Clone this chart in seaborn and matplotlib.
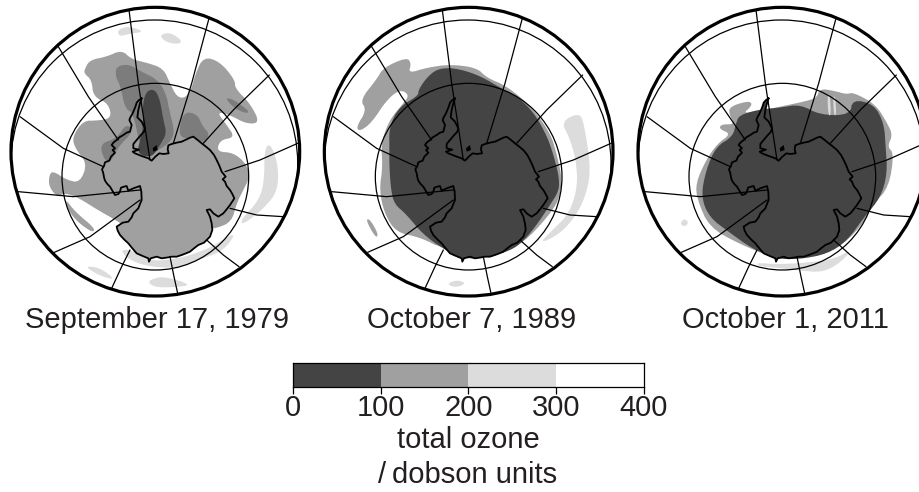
import numpy as np
import matplotlib
matplotlib.use('Agg')
import matplotlib.pyplot as plt
from matplotlib.colors import ListedColormap
from matplotlib.patches import Circle
import seaborn as sns

coast = [(425,295),(417,300),(410,308),(407,318),(403,328),(397,342),(392,350),(388,360),(395,375),(390,395),
         (380,398),(370,405),(358,412),(350,420),(340,428),(335,435),(345,445),(338,450),(345,458),(333,470),
         (328,482),(315,487),(312,498),(306,508),(310,520),(312,532),(315,542),(322,552),(330,560),(337,572),
         (345,585),(355,582),(360,575),(363,563),(372,560),(380,558),(385,572),(400,565),(420,558),(424,575),
         (425,600),(420,612),(415,625),(408,632),(400,640),(395,652),(385,665),(368,668),(350,680),(353,692),
         (360,705),(372,718),(385,730),(397,745),(410,760),(428,768),(445,775),(447,785),(452,775),(470,770),
         (485,775),(505,772),(515,770),(530,770),(545,765),(558,760),(570,755),(582,745),(595,735),(612,728),
         (630,710),(637,690),(635,670),(630,650),(620,630),(630,628),(640,640),(655,650),(670,640),(680,628),
         (690,615),(703,595),(697,582),(690,570),(680,558),(675,545),(668,538),(677,530),(665,515),(658,497),
         (650,480),(642,465),(630,450),(618,440),(605,430),(593,420),(580,410),(570,413),(560,418),(545,425),
         (530,428),(515,432),(505,436),(503,448),(506,460),(490,462),(478,460),(466,470),(455,482),(445,475),
         (425,468),(405,460),(398,455),(417,449),(400,445),(400,432),(410,420),(420,408),(432,395),(435,385),
         (425,365),(412,352),(415,330),(420,310)]
meridians = [[(387,30),(415,250),(450,480)], [(627,55),(575,250),(520,430)], [(808,225),(700,330),(610,430)],
             [(893,430),(780,480),(675,515)], [(850,650),(770,645),(690,625)], [(717,800),(670,765),(620,720)],
             [(533,880),(522,830),(510,770)], [(335,865),(365,800),(390,750)], [(163,757),(270,710),(420,600)],
             [(55,575),(220,590),(420,570)], [(60,350),(190,445),(310,500)], [(175,140),(265,290),(355,420)]]
rings = [(466,530,280), (463,490,430)]

mid_1979 = [[(255,205),(270,180),(320,170),(365,150),(395,178),(440,188),(490,205),(510,250),(530,290),(555,295),
             (575,265),(585,225),(610,170),(660,185),(705,240),(705,265),(750,310),(780,368),(740,372),(690,345),
             (650,335),(680,375),(705,412),(660,420),(650,455),(700,458),(738,490),(750,530),(730,570),(710,610),
             (695,665),(650,685),(600,690),(400,695),(350,662),(290,628),(240,596),(195,578),(172,592),(147,560),
             (147,528),(158,512),(200,540),(240,548),(262,490),(225,445),(217,410),(250,362),(290,362),(335,355),
             (325,310),(280,290),(275,240),(252,220)],
            [(195,595),(225,635),(285,685),(278,698),(235,668),(205,632)]]
grey_1979 = [[(348,200),(385,192),(420,213),(472,238),(498,280),(508,330),(525,400),(505,432),(450,465),(420,440),
              (400,340),(375,325),(362,260),(347,230)],
             [(550,335),(592,342),(608,380),(630,402),(610,432),(580,405),(555,418),(535,400)],
             [(298,432),(350,415),(380,370),(400,395),(355,440),(335,482),(315,485)],
             [(675,293),(700,298),(750,335),(735,340),(700,322)]]
dark_1979 = [[(440,272),(465,268),(480,300),(490,360),(500,400),(482,432),(458,470),(430,468),(412,455),(420,420),
              (430,380),(428,310)]]
light_1979 = [[(352,90),(385,78),(435,95),(385,102),(358,110)], [(478,105),(510,97),(545,120),(538,133),(498,127)],
              [(810,428),(834,490),(834,572),(792,625),(728,675),(722,660),(778,600),(793,540),(793,450)],
              [(712,693),(672,752),(600,778),(540,803),(480,803),(420,793),(378,772),(362,748),(400,752),(450,785),
               (540,775),(600,755),(640,738)],
              [(252,798),(300,803),(348,840),(300,828)], [(448,840),(490,828),(578,855),(520,862),(470,862),(448,852)]]

mid_1989 = [[(120,300),(170,238),(190,203),(260,172),(274,190),(265,220),(320,203),(390,193),(470,203),(500,233),
             (560,258),(632,318),(692,400),(712,470),(727,540),(717,600),(682,652),(612,727),(540,762),(370,747),
             (300,712),(228,697),(193,640),(178,570),(188,500),(183,430),(208,360),(250,310),(268,285),(240,268),
             (200,300),(155,368),(120,394),(108,382),(140,330)],
            [(138,658),(150,658),(174,700),(170,714),(153,690)]]
dark_1989 = [[(295,270),(320,233),(350,208),(390,203),(440,213),(490,233),(540,263),(590,288),(642,338),(682,410),
              (702,470),(717,530),(717,572),(692,612),(652,672),(612,722),(572,752),(500,772),(430,777),(370,747),
              (308,702),(258,642),(223,612),(213,570),(208,500),(208,440),(208,380),(238,320),(295,287)]]
light_1989 = [[(723,365),(778,338),(792,370),(812,500),(802,572),(772,642),(720,702),(656,732),(700,688),(748,640),
               (773,560),(768,480),(748,412)],
              [(383,850),(410,840),(437,848),(420,860),(395,860)]]

mid_2011 = [[(328,320),(387,302),(398,315),(365,345),(480,320),(560,303),(590,293),(600,266),(640,272),(680,283),
             (700,277),(767,313),(802,370),(818,405),(802,440),(822,460),(807,560),(762,612),(722,682),(652,747),
             (560,777),(470,777),(358,732),(268,682),(232,600),(227,550),(258,480),(293,430),(333,402),(298,387),
             (303,373),(345,373),(328,345)]]
dark_2011 = [[(358,345),(420,328),(480,323),(540,313),(600,345),(690,345),(698,298),(762,313),(792,370),(797,440),
              (802,520),(782,592),(732,652),(682,722),(622,762),(540,777),(470,777),(398,747),(328,697),(268,652),
              (243,590),(258,510),(288,440),(338,410),(348,370)]]
light_2011 = [[(408,788),(470,793),(560,788),(640,778),(697,748),(662,787),(610,817),(540,812),(460,802),(418,799)],
              [(183,665),(195,656),(206,668),(195,680),(183,674)],
              [(622,285),(630,285),(633,346),(625,346)], [(639,290),(646,290),(649,346),(642,346)]]
spots = [(458,445),(470,435),(473,450),(460,455)]

dates = ['September 17, 1979', 'October 7, 1989', 'October 1, 2011']
date_x = [157, 472, 785]
ozone_levels = [50, 150, 250, 350]
ozone_ticks = [0, 100, 200, 300, 400]

DARK, GREY, MID, LIGHT = '#444444', '#7c7c7c', '#a0a0a0', '#dcdcdc'
W, H = 920, 492
HALF = 444
CY = 455


def smooth(pts, n=2):
    # corner cutting so the contours are not angular
    p = np.array(pts, dtype=float)
    for _ in range(n):
        q = np.roll(p, -1, axis=0)
        p = np.column_stack([0.75 * p + 0.25 * q, 0.25 * p + 0.75 * q]).reshape(-1, 2)
    return p


def draw_panel(px, cx, layers, land):
    ax = fig.add_axes([(px + cx / 3 - HALF / 3) / W, 1 - (CY + HALF) / 3 / H, 2 * HALF / 3 / W, 2 * HALF / 3 / H])
    ax.set_xlim(cx - HALF, cx + HALF)
    ax.set_ylim(CY + HALF, CY - HALF)
    ax.set_aspect('equal')
    ax.axis('off')
    globe = Circle((cx, CY), 433, fc='none', ec='black', lw=2.3, zorder=6)
    dx = cx - 466
    ax.fill(*np.array(coast, dtype=float).T + np.array([[dx], [0]]), color=land, lw=0, zorder=2)
    for shapes, colour, z in layers:
        for s in shapes:
            ax.fill(*smooth(s).T, color=colour, lw=0, zorder=z)
    clip = Circle((cx, CY), 433, transform=ax.transData)
    for x0, y0, r in rings:
        ring = Circle((x0 + dx, y0), r, fc='none', ec='black', lw=0.9, zorder=4)
        ax.add_patch(ring)
        ring.set_clip_path(clip)
    for m in meridians:
        xs, ys = zip(*m)
        sns.lineplot(x=np.array(xs) + dx, y=ys, sort=False, estimator=None, color='black', lw=0.9, zorder=4, ax=ax)
    xs, ys = zip(*(coast + coast[:1]))
    ax.plot(np.array(xs) + dx, ys, color='black', lw=1.3, zorder=5)
    ax.fill(*(np.array(spots, dtype=float).T + np.array([[dx], [0]])), color='black', lw=0, zorder=5)
    ax.add_patch(globe)
    return ax


sns.set_theme(style='white')
plt.rcParams['font.family'] = ['Liberation Sans', 'DejaVu Sans']
fig = plt.figure(figsize=(W / 100, H / 100), dpi=100)

draw_panel(0, 466, [(light_1979, LIGHT, 1), (mid_1979, MID, 1.5), (grey_1979, GREY, 2.5), (dark_1979, DARK, 3)], MID)
draw_panel(320, 446, [(light_1989, LIGHT, 1), (mid_1989, MID, 1.5), (dark_1989, DARK, 1.8)], DARK)
draw_panel(620, 487, [(mid_2011, MID, 1.5), (dark_2011, DARK, 1.8), (light_2011, LIGHT, 2)], DARK)

for label, x in zip(dates, date_x):
    fig.text(x / W, 1 - 320 / H, label, fontsize=21, color='#231f20', ha='center', va='center')

# colour key
cax = fig.add_axes([293 / W, 1 - 387 / H, 351 / W, 24 / H])
sns.heatmap([ozone_levels], cmap=ListedColormap([DARK, MID, LIGHT, 'white']), vmin=0, vmax=400, cbar=False,
            xticklabels=False, yticklabels=False, ax=cax)
cax.set_xticks(range(len(ozone_ticks)))
cax.set_xticklabels(ozone_ticks, fontsize=21, color='#231f20', rotation=0)
cax.tick_params(axis='x', bottom=True, length=5, width=0.9, color='black', pad=0)
for sp in cax.spines.values():
    sp.set_visible(True)
    sp.set_color('black')
    sp.set_linewidth(0.9)
fig.text(468 / W, 1 - 440 / H, 'total ozone', fontsize=21, color='#231f20', ha='center', va='center')
fig.text(468 / W, 1 - 475 / H, '/\u2009dobson units', fontsize=21, color='#231f20', ha='center', va='center')

fig.savefig('out.png', dpi=100)
